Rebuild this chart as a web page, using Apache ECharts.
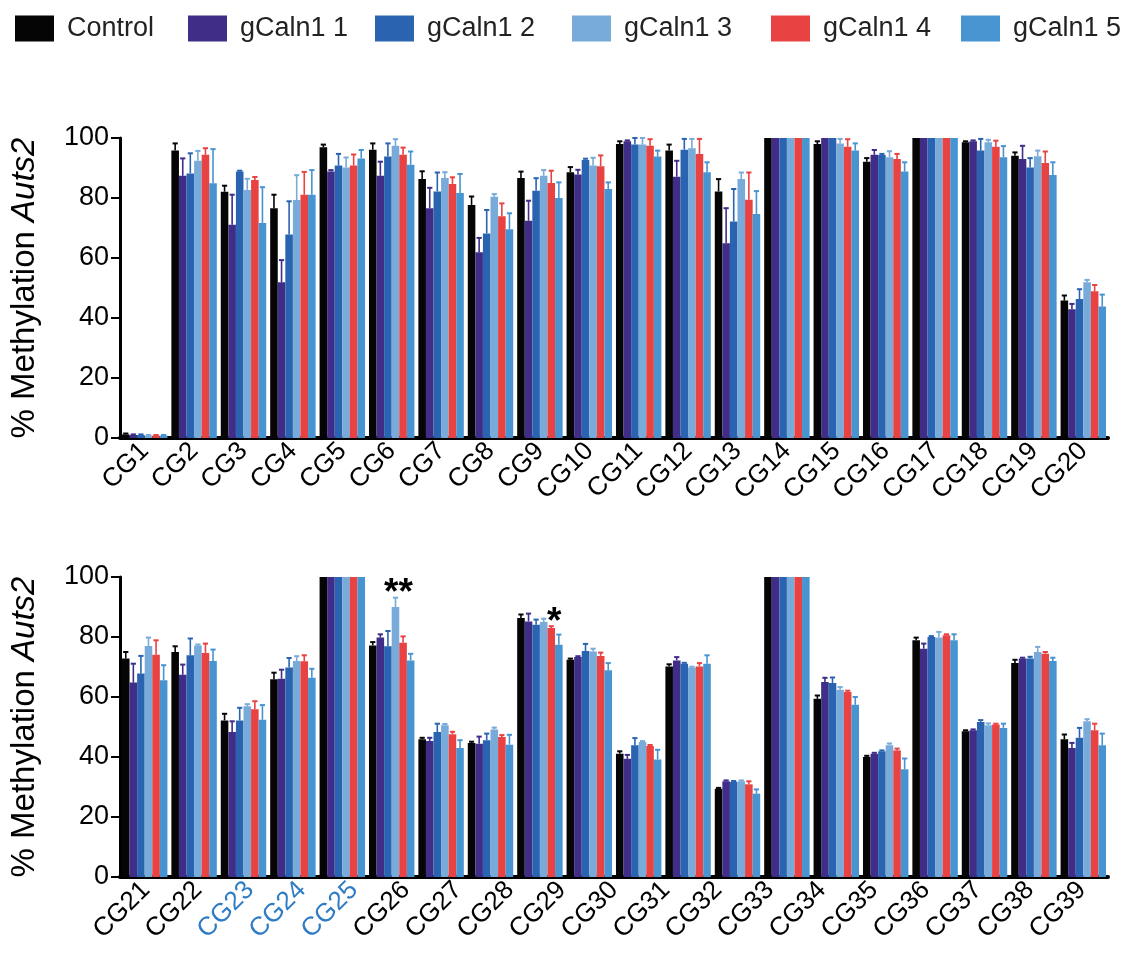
<!DOCTYPE html>
<html><head><meta charset="utf-8">
<script src="https://cdn.jsdelivr.net/npm/echarts@6/dist/echarts.min.js"></script>
<style>html,body{margin:0;padding:0;background:#fff}#c{width:1124px;height:956px}</style>
</head><body><div id="c"></div>
<script>
// ---------- data ----------
const seriesNames = ['Control', 'gCaln1 1', 'gCaln1 2', 'gCaln1 3', 'gCaln1 4', 'gCaln1 5'];
const yTicks = [0, 20, 40, 60, 80, 100];

const topCategories = ['CG1','CG2','CG3','CG4','CG5','CG6','CG7','CG8','CG9','CG10',
  'CG11','CG12','CG13','CG14','CG15','CG16','CG17','CG18','CG19','CG20'];
// 19 tick labels printed under the lower panel
const bottomLabels = ['CG21','CG22','CG23','CG24','CG25','CG26','CG27','CG28','CG29','CG30',
  'CG31','CG32','CG33','CG34','CG35','CG36','CG37','CG38','CG39'];
const highlightedLabels = ['CG23','CG24','CG25'];
// 20 bar groups drawn in the lower panel
const bottomGroups = ['G1','G2','G3','G4','G5','G6','G7','G8','G9','G10',
  'G11','G12','G13','G14','G15','G16','G17','G18','G19','G20'];

// upper panel means
const topControl = [1.2, 95.8, 82.1, 76.6, 96.9, 96.1, 86.3, 77.7, 86.7, 88.6, 98.0, 95.8, 82.2, 100, 98.0, 92.1, 100, 98.6, 94.1, 45.8];
const topG1 = [1.0, 87.4, 71.1, 51.9, 88.8, 87.4, 76.6, 61.9, 72.4, 87.8, 98.9, 87.1, 64.9, 100, 100, 94.4, 100, 98.9, 93.0, 42.9];
const topG2 = [1.0, 88.2, 88.8, 67.8, 90.8, 93.8, 82.2, 68.2, 82.4, 92.7, 97.8, 96.1, 72.2, 100, 100, 94.3, 100, 95.8, 90.2, 46.3];
const topG3 = [0.8, 92.4, 82.7, 79.3, 90.2, 97.4, 86.7, 80.4, 87.4, 90.8, 97.8, 96.6, 86.3, 100, 98.2, 93.6, 100, 98.6, 93.9, 51.9];
const topG4 = [0.8, 94.4, 86.0, 81.1, 90.8, 94.4, 84.7, 73.9, 85.0, 90.6, 97.4, 94.7, 79.4, 100, 97.1, 93.0, 100, 97.1, 91.7, 48.9];
const topG5 = [0.8, 84.9, 71.7, 81.1, 93.2, 91.1, 81.7, 69.6, 80.0, 83.0, 93.8, 88.6, 74.7, 100, 95.8, 88.8, 100, 93.6, 87.7, 43.8];
// upper panel error (upper whisker length)
const topControlErr = [0.3, 2.4, 2.0, 4.5, 0.9, 2.1, 2.6, 2.8, 2.1, 1.7, 0.9, 2.0, 4.1, 0, 0.9, 1.2, 0, 0.3, 1.1, 1.7];
const topG1Err = [0.2, 5.8, 10.0, 7.4, 0.5, 4.7, 6.8, 4.8, 6.7, 1.6, 0.3, 5.3, 11.7, 0, 0, 1.6, 0, 0.3, 4.4, 1.8];
const topG2Err = [0.2, 6.7, 0.3, 11.1, 3.9, 4.4, 6.3, 7.8, 4.2, 0.4, 2.2, 3.6, 10.8, 0, 0, 0.4, 0, 3.9, 3.1, 3.3];
const topG3Err = [0.2, 3.3, 3.7, 8.3, 3.3, 2.2, 1.9, 0.9, 1.9, 2.6, 2.2, 3.1, 2.2, 0, 1.5, 2.0, 0, 0.8, 1.9, 0.8];
const topG4Err = [0.2, 2.2, 1.0, 7.6, 3.7, 2.4, 2.2, 4.3, 4.1, 3.6, 2.2, 5.0, 9.1, 0, 2.5, 1.7, 0, 2.0, 3.8, 2.1];
const topG5Err = [0.2, 11.4, 11.9, 8.2, 2.8, 4.4, 6.3, 5.3, 5.2, 2.2, 2.0, 3.3, 7.6, 0, 2.4, 3.1, 0, 3.7, 4.2, 4.0];

// lower panel means (20 groups)
const botControl = [72.8, 75.0, 52.2, 65.9, 100, 77.2, 45.9, 44.7, 86.3, 72.4, 41.1, 70.2, 29.4, 100, 59.4, 40.0, 78.9, 48.6, 71.3, 45.9];
const botG1 = [64.8, 67.4, 48.3, 66.1, 100, 79.8, 45.3, 44.4, 85.2, 73.3, 39.4, 72.2, 31.9, 100, 65.0, 41.1, 76.1, 48.9, 72.8, 43.0];
const botG2 = [67.8, 73.9, 52.2, 69.8, 100, 76.9, 48.3, 45.6, 84.1, 75.3, 43.9, 71.1, 31.7, 100, 64.7, 41.9, 80.0, 51.7, 72.8, 46.4];
const botG3 = [77.0, 77.2, 56.9, 72.0, 100, 90.0, 50.6, 49.2, 85.0, 75.2, 45.0, 69.8, 31.9, 100, 62.4, 43.9, 79.8, 50.6, 75.0, 51.9];
const botG4 = [74.1, 74.7, 55.9, 71.9, 100, 78.1, 47.6, 46.7, 83.0, 73.7, 43.7, 70.2, 30.9, 100, 61.7, 42.2, 80.6, 50.8, 74.4, 48.9];
const botG5 = [65.6, 72.0, 52.4, 66.4, 100, 72.2, 43.0, 44.1, 77.4, 68.9, 39.2, 71.1, 27.8, 100, 57.4, 35.9, 78.9, 49.7, 72.0, 43.9];
const botControlErr = [2.2, 1.9, 2.2, 2.2, 0, 1.1, 0.5, 0.4, 1.2, 0.4, 0.8, 0.7, 0.3, 0, 1.1, 0.4, 0.9, 0.3, 1.1, 1.6];
const botG1Err = [6.3, 3.4, 3.6, 3.0, 0, 1.1, 1.1, 2.4, 2.6, 0.3, 1.3, 1.1, 0.3, 0, 1.4, 0.3, 1.7, 0.3, 0.3, 1.7];
const botG2Err = [5.9, 5.6, 4.2, 3.2, 0, 5.1, 2.8, 2.2, 1.7, 2.4, 2.4, 0.3, 0.3, 0, 1.8, 0.3, 0.3, 0.6, 0.6, 3.3];
const botG3Err = [2.8, 0.3, 0.7, 1.6, 0, 3.1, 0.4, 0.6, 1.1, 0.9, 0.3, 0.3, 0.3, 0, 0.9, 0.6, 1.9, 0.6, 1.7, 0.7];
const botG4Err = [4.8, 3.1, 2.7, 2.0, 0, 2.1, 0.8, 0.6, 0.6, 1.1, 0.3, 1.1, 1.0, 0, 0.4, 0.6, 0.3, 0.3, 0.6, 2.2];
const botG5Err = [5.0, 3.8, 4.9, 3.0, 0, 2.2, 2.6, 3.3, 3.4, 2.4, 3.2, 2.8, 1.4, 0, 2.6, 3.6, 2.0, 1.4, 1.1, 3.9];

// significance marks in the lower panel: [group index, series index, text]
const bottomMarks = [[5, 3, '**'], [8, 4, '*']];

// ---------- styling ----------
const colors = ['#050505', '#3F2D88', '#2A64B0', '#78AADA', '#E84243', '#4794D1'];
const FONT = '"Liberation Sans", Arial, sans-serif';
const CAT_GAP = 0.08;
const legendLeft = [10, 183, 370, 567, 766, 956];

const topMeans = [topControl, topG1, topG2, topG3, topG4, topG5];
const topErrs = [topControlErr, topG1Err, topG2Err, topG3Err, topG4Err, topG5Err];
const botMeans = [botControl, botG1, botG2, botG3, botG4, botG5];
const botErrs = [botControlErr, botG1Err, botG2Err, botG3Err, botG4Err, botG5Err];

function errData(means, errs) {
  const out = [];
  means.forEach((arr, s) => arr.forEach((v, i) => out.push([i, s, v, errs[s][i]])));
  return out;
}
function barCenter(api, cat, s) {
  const cx = api.coord([cat, 0])[0];
  const band = api.size([1, 0])[0];
  const bw = band * (1 - CAT_GAP) / 6;
  return { x: cx + (s - 2.5) * bw, bw: bw };
}
function errRender(params, api) {
  const cat = api.value(0), s = api.value(1), v = api.value(2), e = api.value(3);
  if (!(e > 0)) return null;
  const c = barCenter(api, cat, s);
  const y0 = api.coord([cat, v])[1];
  const y1 = api.coord([cat, v + e])[1];
  const half = 2.6;
  return { type: 'group', children: [
    { type: 'line', shape: { x1: c.x, y1: y0, x2: c.x, y2: y1 }, style: { stroke: colors[s], lineWidth: 1.6 } },
    { type: 'line', shape: { x1: c.x - half, y1: y1, x2: c.x + half, y2: y1 }, style: { stroke: colors[s], lineWidth: 2 } }
  ]};
}
function markRender(params, api) {
  const cat = api.value(0), s = api.value(1);
  const top = botMeans[s][cat] + botErrs[s][cat];
  const c = barCenter(api, cat, s);
  const y = api.coord([cat, top])[1];
  return { type: 'text', x: c.x + 3, y: y + 15, style: {
    text: bottomMarks[params.dataIndex][2], fontSize: 37, fontWeight: 'bold', fontFamily: FONT,
    fill: '#000', align: 'center', verticalAlign: 'bottom' } };
}

function yAxisCfg(gi) {
  return {
    gridIndex: gi, type: 'value', min: yTicks[0], max: yTicks[yTicks.length - 1], interval: 20,
    axisLine: { show: true, lineStyle: { color: '#000', width: 3 } },
    axisTick: { show: true, length: 9, lineStyle: { color: '#000', width: 2 } },
    axisLabel: { fontSize: 27, color: '#000', fontFamily: FONT, margin: 11 },
    splitLine: { show: false },
    name: '% Methylation {i|Auts2}', nameLocation: 'middle', nameGap: 79,
    nameTextStyle: { fontSize: 33, color: '#000', fontFamily: FONT,
      rich: { i: { fontSize: 33, fontStyle: 'italic', color: '#000', fontFamily: FONT } } }
  };
}
const xLabelStyle = { rotate: 45, fontSize: 26, fontFamily: FONT, margin: 9, interval: 0 };

const series = [];
seriesNames.forEach((n, s) => {
  series.push({ name: n, type: 'bar', xAxisIndex: 0, yAxisIndex: 0, data: topMeans[s],
    itemStyle: { color: colors[s] }, barGap: '0%', barCategoryGap: (CAT_GAP * 100) + '%', z: 2 });
});
seriesNames.forEach((n, s) => {
  series.push({ name: n, type: 'bar', xAxisIndex: 1, yAxisIndex: 1, data: botMeans[s],
    itemStyle: { color: colors[s] }, barGap: '0%', barCategoryGap: (CAT_GAP * 100) + '%', z: 2 });
});
series.push({ type: 'custom', xAxisIndex: 0, yAxisIndex: 0, renderItem: errRender,
  data: errData(topMeans, topErrs), encode: { x: 0, y: 2 }, z: 3, silent: true });
series.push({ type: 'custom', xAxisIndex: 1, yAxisIndex: 1, renderItem: errRender,
  data: errData(botMeans, botErrs), encode: { x: 0, y: 2 }, z: 3, silent: true });
series.push({ type: 'custom', xAxisIndex: 1, yAxisIndex: 1, renderItem: markRender,
  data: bottomMarks.map(m => [m[0], m[1]]), encode: { x: 0, y: 1 }, z: 4, silent: true });

const option = {
  animation: false,
  backgroundColor: '#fff',
  textStyle: { fontFamily: FONT },
  legend: seriesNames.map((n, s) => ({
    data: [n], left: legendLeft[s], top: 10, icon: 'rect', itemWidth: 39, itemHeight: 26,
    itemGap: 0, selectedMode: false,
    textStyle: { fontSize: 27, color: '#222', fontFamily: FONT, padding: [0, 0, 0, 8] }
  })),
  grid: [
    { left: 120, right: 16, top: 138, height: 300 },
    { left: 120, right: 16, top: 577, height: 300 }
  ],
  xAxis: [
    { gridIndex: 0, type: 'category', data: topCategories,
      axisLine: { lineStyle: { color: '#000', width: 4 } }, axisTick: { show: false },
      axisLabel: Object.assign({ color: '#000' }, xLabelStyle) },
    { gridIndex: 1, type: 'category', data: bottomGroups,
      axisLine: { lineStyle: { color: '#000', width: 4 } }, axisTick: { show: false },
      axisLabel: { show: false } },
    { gridIndex: 1, type: 'category', data: bottomLabels, position: 'bottom',
      axisLine: { show: false }, axisTick: { show: false },
      axisLabel: Object.assign({ color: (v) => highlightedLabels.includes(v) ? '#2F7CC4' : '#000' }, xLabelStyle) }
  ],
  yAxis: [yAxisCfg(0), yAxisCfg(1)],
  series: series
};
const chart = echarts.init(document.getElementById('c'), null, { renderer: 'canvas' });
chart.setOption(option);
</script>
</body></html>
